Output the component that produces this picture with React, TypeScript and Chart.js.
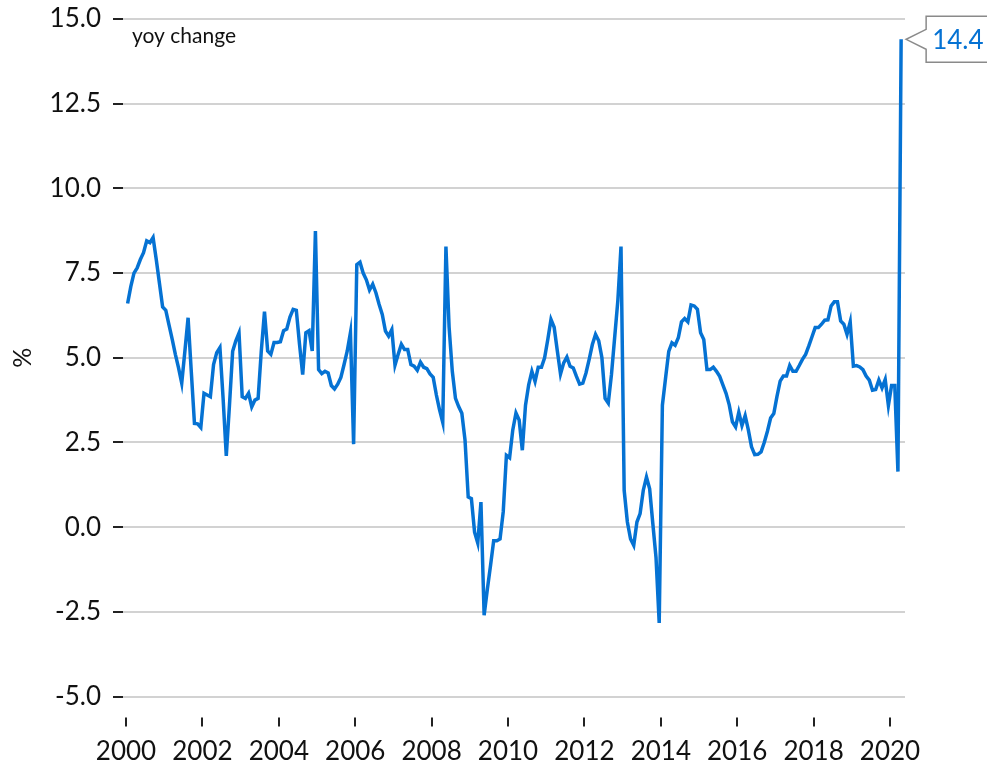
import React, { useEffect, useRef } from 'react';
import { Chart, registerables } from 'chart.js';

Chart.register(...registerables);

// ---- data ----
const START_YEAR = 2000; // first observation: January 2000, monthly
const yoyChange: number[] = [
  // 2000
  6.6, 7.1, 7.5, 7.65, 7.9, 8.1, 8.45, 8.4, 8.55, 7.9, 7.2, 6.5,
  // 2001
  6.4, 5.97, 5.55, 5.1, 4.7, 4.25, 5.2, 6.18, 4.6, 3.06, 3.05, 2.94,
  // 2002
  3.95, 3.9, 3.85, 4.8, 5.15, 5.3, 3.8, 2.1, 3.6, 5.19, 5.5, 5.73,
  // 2003
  3.85, 3.8, 3.95, 3.55, 3.75, 3.8, 5.2, 6.36, 5.2, 5.1, 5.45, 5.45,
  // 2004
  5.47, 5.8, 5.85, 6.2, 6.43, 6.4, 5.4, 4.5, 5.74, 5.8, 5.2, 8.74,
  // 2005
  4.65, 4.53, 4.6, 4.55, 4.18, 4.08, 4.22, 4.42, 4.8, 5.2, 5.74, 2.45,
  // 2006
  7.75, 7.82, 7.5, 7.3, 7.0, 7.17, 6.92, 6.58, 6.28, 5.79, 5.64, 5.83,
  // 2007
  4.78, 5.1, 5.4, 5.24, 5.24, 4.8, 4.75, 4.63, 4.87, 4.72, 4.68, 4.52,
  // 2008
  4.42, 3.9, 3.46, 3.09, 8.28, 5.9, 4.6, 3.8, 3.56, 3.36, 2.57, 0.89,
  // 2009
  0.84, -0.15, -0.47, 0.74, -2.6, -1.84, -1.14, -0.4, -0.4, -0.35, 0.45, 2.12,
  // 2010
  2.05, 2.87, 3.37, 3.16, 2.27, 3.6, 4.2, 4.6, 4.3, 4.72, 4.72, 5.0,
  // 2011
  5.54, 6.13, 5.9, 5.2, 4.52, 4.85, 5.02, 4.75, 4.7, 4.45, 4.22, 4.25,
  // 2012
  4.55, 4.95, 5.39, 5.69, 5.5, 5.0, 3.8, 3.66, 4.5, 5.59, 6.68, 8.28,
  // 2013
  1.08, 0.15, -0.35, -0.54, 0.15, 0.4, 1.09, 1.48, 1.13, 0.1, -0.9, -2.83,
  // 2014
  3.6, 4.4, 5.19, 5.44, 5.37, 5.59, 6.06, 6.16, 6.06, 6.56, 6.53, 6.43,
  // 2015
  5.74, 5.54, 4.65, 4.65, 4.72, 4.6, 4.45, 4.2, 3.95, 3.61, 3.11, 2.96,
  // 2016
  3.39, 3.0, 3.29, 2.87, 2.37, 2.14, 2.15, 2.22, 2.5, 2.83, 3.22, 3.35,
  // 2017
  3.86, 4.31, 4.46, 4.46, 4.77, 4.6, 4.6, 4.77, 4.95, 5.1, 5.35, 5.62,
  // 2018
  5.89, 5.89, 5.99, 6.11, 6.12, 6.53, 6.65, 6.65, 6.09, 5.99, 5.69, 6.06,
  // 2019
  4.75, 4.77, 4.73, 4.65, 4.46, 4.34, 4.04, 4.06, 4.34, 4.11, 4.36, 3.59,
  // 2020
  4.18, 4.18, 1.64, 14.4,
];

const xTickValues = [2000, 2002, 2004, 2006, 2008, 2010, 2012, 2014, 2016, 2018, 2020];
const yTickValues = [-5, -2.5, 0, 2.5, 5, 7.5, 10, 12.5, 15];
const Y_MIN = -5;
const Y_MAX = 15;
const X_MIN = 1999.921;
const X_MAX = 2020.393;
const seriesNote = 'yoy change';
const yAxisTitle = '%';

// ---- styles ----
const LINE_COLOR = '#0572D3';
const TEXT_COLOR = '#111111';
const GRID_COLOR = '#d2d2d2';
const FONT_FAMILY = 'Lato, "Open Sans", sans-serif';

const overlayPlugin = {
  id: 'overlay',
  afterDraw(chart: any) {
    const ctx = chart.ctx as CanvasRenderingContext2D;
    const area = chart.chartArea;
    const xs = chart.scales.x;
    ctx.save();
    // x-axis tick marks
    ctx.strokeStyle = '#222';
    ctx.lineWidth = 2;
    xTickValues.forEach((v) => {
      const px = Math.round(xs.getPixelForValue(v));
      ctx.beginPath();
      ctx.moveTo(px, area.bottom + 21);
      ctx.lineTo(px, area.bottom + 30);
      ctx.stroke();
    });
    // series note
    ctx.fillStyle = TEXT_COLOR;
    ctx.font = `21px ${FONT_FAMILY}`;
    ctx.textAlign = 'left';
    ctx.textBaseline = 'alphabetic';
    ctx.fillText(seriesNote, area.left + 9, area.top + 24);

    // callout for the last value
    const meta = chart.getDatasetMeta(0);
    const last = meta.data[meta.data.length - 1];
    const lastVal = yoyChange[yoyChange.length - 1];
    const tipX = last.x + 5;
    const tipY = last.y;
    const bx = tipX + 20;
    const top = tipY - 23;
    const bottom = tipY + 23;
    const right = chart.width + 10;
    ctx.beginPath();
    ctx.moveTo(right, top);
    ctx.lineTo(bx, top);
    ctx.lineTo(bx, tipY - 10);
    ctx.lineTo(tipX, tipY);
    ctx.lineTo(bx, tipY + 10);
    ctx.lineTo(bx, bottom);
    ctx.lineTo(right, bottom);
    ctx.fillStyle = '#ffffff';
    ctx.fill();
    ctx.strokeStyle = '#8a8a8a';
    ctx.lineWidth = 1.5;
    ctx.stroke();
    ctx.fillStyle = LINE_COLOR;
    ctx.font = `26px ${FONT_FAMILY}`;
    ctx.textBaseline = 'middle';
    ctx.fillText(lastVal.toFixed(1), bx + 6, tipY + 1);
    ctx.restore();
  },
};

export default function App() {
  const ref = useRef<HTMLCanvasElement>(null);

  useEffect(() => {
    const canvas = ref.current;
    if (!canvas) return;
    const points = yoyChange.map((v, i) => ({ x: START_YEAR + (i + 0.5) / 12, y: v }));
    const tickFont = { family: FONT_FAMILY, size: 26 };
    const chart = new Chart(canvas, {
      type: 'line',
      data: {
        datasets: [
          {
            data: points,
            borderColor: LINE_COLOR,
            backgroundColor: LINE_COLOR,
            borderWidth: 3.5,
            pointRadius: 0,
            tension: 0,
            fill: false,
          },
        ],
      },
      options: {
        animation: false,
        responsive: false,
        devicePixelRatio: 1,
        layout: { padding: { top: 19, right: 82, bottom: 0, left: 0 } },
        plugins: { legend: { display: false }, tooltip: { enabled: false } },
        scales: {
          x: {
            type: 'linear',
            min: X_MIN,
            max: X_MAX,
            grid: { display: false, drawTicks: false },
            border: { display: false },
            afterBuildTicks: (s: any) => {
              s.ticks = xTickValues.map((v) => ({ value: v }));
            },
            ticks: {
              callback: (v: any) => String(v),
              font: tickFont,
              color: TEXT_COLOR,
              padding: 40,
              maxRotation: 0,
              autoSkip: false,
            },
            afterFit: (s: any) => {
              s.height = 71.5;
              s.paddingLeft = 0;
              s.paddingRight = 0;
            },
          },
          y: {
            type: 'linear',
            min: Y_MIN,
            max: Y_MAX,
            afterBuildTicks: (s: any) => {
              s.ticks = yTickValues.map((v) => ({ value: v }));
            },
            ticks: {
              callback: (v: any) => Number(v).toFixed(1),
              font: tickFont,
              color: TEXT_COLOR,
              padding: 12,
              autoSkip: false,
            },
            grid: {
              color: GRID_COLOR,
              lineWidth: 2,
              drawTicks: true,
              tickLength: 10,
              tickColor: '#222',
              tickWidth: 2,
            },
            border: { display: false },
            title: {
              display: true,
              text: yAxisTitle,
              font: { family: FONT_FAMILY, size: 25 },
              color: TEXT_COLOR,
              padding: { top: 8, bottom: 0 },
            },
            afterFit: (s: any) => {
              s.width = 123;
              s.paddingTop = 0;
              s.paddingBottom = 0;
            },
          },
        },
      },
      plugins: [overlayPlugin],
    } as any);
    return () => chart.destroy();
  }, []);

  return (
    <div style={{ position: 'fixed', left: 0, top: 0, width: 987, height: 768, background: '#fff' }}>
      <canvas ref={ref} width={987} height={768} style={{ display: 'block', width: 987, height: 768 }} />
    </div>
  );
}
